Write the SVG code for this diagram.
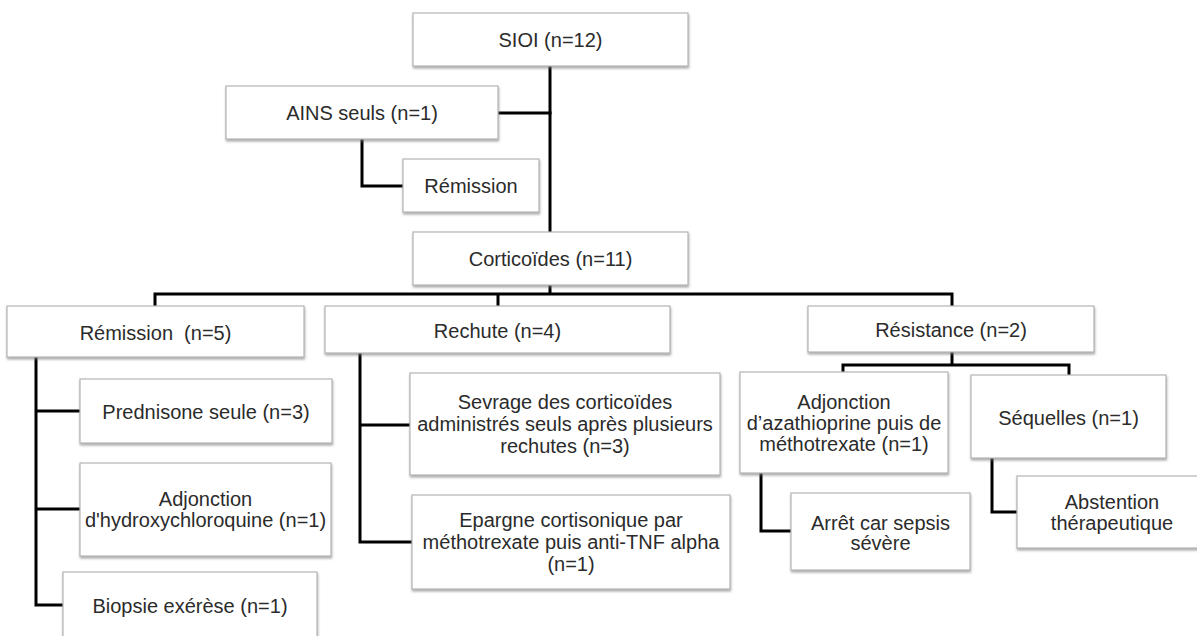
<svg xmlns="http://www.w3.org/2000/svg" width="1197" height="636" viewBox="0 0 1197 636">
<defs>
<filter id="sh" x="-10%" y="-10%" width="130%" height="140%">
<feDropShadow dx="0.5" dy="2" stdDeviation="1.2" flood-color="#777" flood-opacity="0.6"/>
</filter>
<style>
.box{fill:#fff;stroke:#b4b4b4;stroke-width:1.2;filter:url(#sh)}
.t{font-family:"Liberation Sans",Arial,sans-serif;font-size:20px;fill:#2b2b2b;text-anchor:middle}
.c{fill:none;stroke:#000;stroke-width:3;stroke-linejoin:miter;stroke-linecap:butt}
</style>
</defs>
<rect width="1197" height="636" fill="#fff"/>
<g id="connectors">
<path class="c" d="M550,66 V232"/>
<path class="c" d="M498,113 H551.5"/>
<path class="c" d="M362,139 V186 H403"/>
<path class="c" d="M550,285 V294"/>
<path class="c" d="M155,306 V294 H952 V306"/>
<path class="c" d="M498,294 V306"/>
<path class="c" d="M36,357 V605 H63"/>
<path class="c" d="M36,411 H80"/>
<path class="c" d="M36,509 H80"/>
<path class="c" d="M360,353 V542 H412"/>
<path class="c" d="M360,425 H410"/>
<path class="c" d="M952,352 V365"/>
<path class="c" d="M843,372 V365 H1069 V375"/>
<path class="c" d="M761,473 V531 H791"/>
<path class="c" d="M992,458 V512 H1017"/>
</g>
<g id="n-sioi"><rect class="box" x="413" y="13" width="275" height="53"/><text class="t" x="550.5" y="47">SIOI (n=12)</text></g>
<g id="n-ains"><rect class="box" x="226" y="86" width="272" height="53"/><text class="t" x="362" y="120">AINS seuls (n=1)</text></g>
<g id="n-remission-ains"><rect class="box" x="403" y="159" width="136" height="53"/><text class="t" x="471" y="193">Rémission</text></g>
<g id="n-cortico"><rect class="box" x="413" y="232" width="275" height="53"/><text class="t" x="550.5" y="266">Corticoïdes (n=11)</text></g>
<g id="n-remission5"><rect class="box" x="7" y="306" width="297" height="51"/><text class="t" x="155.5" y="340">Rémission&#160; (n=5)</text></g>
<g id="n-rechute"><rect class="box" x="325" y="306" width="345" height="47"/><text class="t" x="497.5" y="338">Rechute (n=4)</text></g>
<g id="n-resistance"><rect class="box" x="808" y="306" width="286" height="46"/><text class="t" x="951" y="337">Résistance (n=2)</text></g>
<g id="n-prednisone"><rect class="box" x="80" y="379" width="252" height="64"/><text class="t" x="206" y="419">Prednisone seule (n=3)</text></g>
<g id="n-hydroxy"><rect class="box" x="80" y="463" width="251" height="93"/><text class="t" x="205.5" y="506"><tspan x="205.5">Adjonction</tspan><tspan x="205.5" dy="21">d'hydroxychloroquine (n=1)</tspan></text></g>
<g id="n-biopsie"><rect class="box" x="63" y="572" width="254" height="74"/><text class="t" x="190" y="613">Biopsie exérèse (n=1)</text></g>
<g id="n-sevrage"><rect class="box" x="410" y="373" width="310" height="102"/><text class="t" x="565" y="409"><tspan x="565">Sevrage des corticoïdes</tspan><tspan x="565" dy="22">administrés seuls après plusieurs</tspan><tspan x="565" dy="22">rechutes (n=3)</tspan></text></g>
<g id="n-epargne"><rect class="box" x="412" y="495" width="318" height="94"/><text class="t" x="571" y="527"><tspan x="571">Epargne cortisonique par</tspan><tspan x="571" dy="22">méthotrexate puis anti-TNF alpha</tspan><tspan x="571" dy="22">(n=1)</tspan></text></g>
<g id="n-azathioprine"><rect class="box" x="740" y="372" width="208" height="101"/><text class="t" x="844" y="409"><tspan x="844">Adjonction</tspan><tspan x="844" dy="21">d’azathioprine puis de</tspan><tspan x="844" dy="21">méthotrexate (n=1)</tspan></text></g>
<g id="n-sequelles"><rect class="box" x="971" y="375" width="195" height="83"/><text class="t" x="1068.5" y="425">Séquelles (n=1)</text></g>
<g id="n-arret"><rect class="box" x="791" y="493" width="179" height="77"/><text class="t" x="880.5" y="530"><tspan x="880.5">Arrêt car sepsis</tspan><tspan x="880.5" dy="20">sévère</tspan></text></g>
<g id="n-abstention"><rect class="box" x="1017" y="476" width="190" height="72"/><text class="t" x="1112" y="509"><tspan x="1112">Abstention</tspan><tspan x="1112" dy="21">thérapeutique</tspan></text></g>
</svg>
